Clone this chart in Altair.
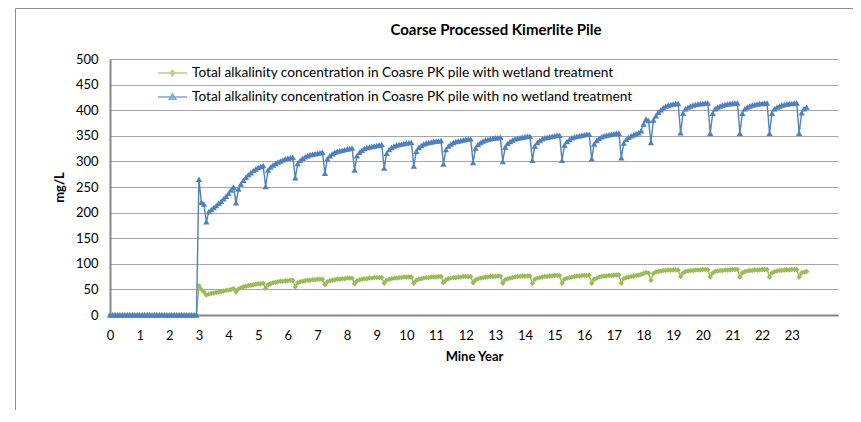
import altair as alt
import pandas as pd

S_G = "Total alkalinity concentration in Coasre PK pile with wetland treatment"
S_B = "Total alkalinity concentration in Coasre PK pile with no wetland treatment"
GREEN = "#9BBB59"
BLUE = "#4F81BD"
FONT = "Lato"

x_ticks = list(range(0, 24))
y_ticks = list(range(0, 501, 50))

# monthly values (mg/L), months 0..282
blue = (
    [0] * 36
    + [265, 220, 217]
    + [182, 202, 206, 210, 214, 218, 222, 227, 232, 238, 244, 250]
    + [219, 246, 256, 263, 269, 274, 278, 282, 285, 288, 290, 292]
    + [251, 283, 289, 293, 296, 299, 301, 303, 305, 306, 307, 308]
    + [268, 296, 302, 306, 309, 311, 313, 314, 315, 316, 317, 318]
    + [277, 305, 311, 315, 318, 320, 321, 322, 323, 324, 325, 326]
    + [283, 311, 318, 322, 325, 327, 328, 329, 330, 331, 332, 333]
    + [287, 316, 323, 327, 330, 332, 333, 334, 335, 336, 337, 337]
    + [291, 320, 327, 331, 334, 336, 337, 338, 339, 340, 340, 341]
    + [295, 323, 330, 334, 337, 339, 340, 341, 342, 343, 344, 344]
    + [298, 326, 333, 337, 340, 342, 343, 344, 345, 346, 346, 347]
    + [300, 328, 335, 339, 342, 344, 345, 346, 347, 348, 349, 349]
    + [302, 330, 337, 341, 344, 346, 347, 348, 349, 350, 351, 351]
    + [302, 332, 339, 343, 346, 348, 349, 350, 351, 352, 353, 353]
    + [305, 334, 341, 345, 348, 350, 351, 352, 353, 354, 355, 355]
    + [307, 336, 343, 347, 350, 352, 354, 356, 360, 373, 383, 380]
    + [337, 381, 389, 396, 401, 405, 408, 410, 411, 412, 413, 413]
    + [356, 394, 403, 406, 408, 410, 411, 412, 413, 413, 414, 414]
    + [355, 394, 403, 406, 408, 410, 411, 412, 413, 413, 414, 414]
    + [355, 394, 403, 406, 408, 410, 411, 412, 413, 413, 414, 414]
    + [355, 394, 403, 406, 408, 410, 411, 412, 413, 413, 414, 414]
    + [355, 395, 403, 406]
)

green = (
    [0] * 36
    + [57, 50, 45]
    + [39, 41, 42, 43, 44, 45, 46, 47, 48, 49, 50, 52]
    + [45, 51, 53, 55, 56, 57, 58, 59, 60, 61, 61, 62]
    + [52, 59, 61, 63, 64, 65, 66, 66, 67, 67, 68, 68]
    + [55, 63, 65, 66, 67, 68, 68, 69, 69, 70, 70, 70]
    + [59, 65, 67, 68, 69, 70, 70, 71, 71, 72, 72, 72]
    + [61, 67, 69, 70, 71, 71, 72, 72, 73, 73, 73, 73]
    + [62, 68, 70, 71, 72, 72, 73, 73, 74, 74, 74, 74]
    + [62, 68, 70, 71, 72, 73, 73, 74, 74, 74, 75, 75]
    + [63, 69, 71, 72, 73, 73, 74, 74, 75, 75, 75, 75]
    + [63, 69, 71, 72, 73, 74, 74, 75, 75, 75, 76, 76]
    + [62, 69, 71, 72, 73, 74, 75, 75, 76, 76, 76, 76]
    + [62, 70, 72, 73, 74, 75, 75, 76, 76, 77, 77, 77]
    + [62, 70, 72, 73, 74, 75, 76, 76, 77, 77, 77, 78]
    + [62, 70, 72, 74, 75, 76, 76, 77, 77, 78, 78, 78]
    + [62, 71, 73, 74, 75, 76, 77, 78, 79, 81, 83, 82]
    + [68, 81, 84, 85, 86, 87, 87, 88, 88, 88, 88, 88]
    + [75, 82, 85, 86, 87, 87, 88, 88, 88, 89, 89, 89]
    + [74, 82, 85, 86, 87, 87, 88, 88, 88, 89, 89, 89]
    + [74, 82, 85, 86, 87, 87, 88, 88, 88, 89, 89, 89]
    + [74, 82, 85, 86, 87, 87, 88, 88, 88, 89, 89, 89]
    + [74, 82, 84, 85]
)

months = list(range(len(blue)))
years = [m / 12 for m in months]

df = pd.DataFrame({
    "year": years * 2,
    "value": green + blue,
    "series": [S_G] * len(green) + [S_B] * len(blue),
})

x_enc = alt.X("year:Q", scale=alt.Scale(domain=[0, 24.56], nice=False, zero=False),
              axis=alt.Axis(values=x_ticks, grid=False, ticks=False, labelPadding=14,
                            domainColor="#868686", domainWidth=2, title="Mine Year",
                            titlePadding=8, labelFlush=False, labelOverlap=False))
y_enc = alt.Y("value:Q", scale=alt.Scale(domain=[0, 500], nice=False),
              axis=alt.Axis(values=y_ticks, grid=True, gridColor="#A6A6A6", gridWidth=1,
                            ticks=False, labelPadding=12, domainColor="#868686",
                            domainWidth=2, title="mg/L", titlePadding=9,
                            labelOverlap=False))

base = alt.Chart(df).encode(x=x_enc, y=y_enc)

line_g = base.transform_filter(alt.datum.series == S_G).mark_line(color=GREEN, strokeWidth=1.4)
pts_g = base.transform_filter(alt.datum.series == S_G).mark_point(
    shape="diamond", filled=True, size=30, color=GREEN, opacity=1)
line_b = base.transform_filter(alt.datum.series == S_B).mark_line(color=BLUE, strokeWidth=1.4)
pts_b = base.transform_filter(alt.datum.series == S_B).mark_point(
    shape="triangle-up", filled=True, size=40, color=BLUE, opacity=1)

PATH_D = "M-1,0L1,0M0,-0.2L0.17,0L0,0.2L-0.17,0Z"
PATH_T = "M-1,0L1,0M0,-0.24L0.24,0.17L-0.24,0.17Z"

legend_df = pd.DataFrame({"series": [S_G, S_B], "year": [None, None], "value": [None, None]})
leg = alt.Legend(orient="none", legendX=47, legendY=-1.5, title=None, padding=0,
                 rowPadding=1, symbolSize=841, symbolStrokeWidth=1.3,
                 labelFont=FONT, labelFontSize=13.7, labelColor="black", labelLimit=700,
                 labelOffset=4)
legend_layer = alt.Chart(legend_df).mark_point(filled=True).encode(
    x=x_enc, y=y_enc,
    fill=alt.Fill("series:N", scale=alt.Scale(domain=[S_G, S_B], range=[GREEN, BLUE]), legend=leg),
    stroke=alt.Stroke("series:N", scale=alt.Scale(domain=[S_G, S_B], range=[GREEN, BLUE]), legend=leg),
    shape=alt.Shape("series:N", scale=alt.Scale(domain=[S_G, S_B], range=[PATH_D, PATH_T]), legend=leg),
)

one = pd.DataFrame({"a": [0]})
border_left = alt.Chart(one).mark_rule(color="#8C8C8C", strokeWidth=1).encode(
    x=alt.value(-94.5), y=alt.value(-50.5), y2=alt.value(360))
border_top = alt.Chart(one).mark_rule(color="#8C8C8C", strokeWidth=1).encode(
    x=alt.value(-94.5), x2=alt.value(760), y=alt.value(-50.5))

chart = alt.layer(
    border_left, border_top, line_g, pts_g, line_b, pts_b, legend_layer
).properties(
    width=728, height=256,
    autosize=alt.AutoSizeParams(type="none"),
    padding={"left": 102, "top": 51, "right": 15, "bottom": 95},
    title=alt.TitleParams("Coarse Processed Kimerlite Pile", font=FONT, fontSize=15,
                          fontWeight="bold", color="black", anchor="middle", dx=22,
                          offset=-30),
).configure_axis(
    labelFont=FONT, labelFontSize=13, labelColor="black", labelOverlap=False,
    titleFont=FONT, titleFontSize=13, titleFontWeight="bold", titleColor="black",
).configure_view(stroke=None)

chart.save("out.html", embed_options={"renderer": "svg", "actions": False})
